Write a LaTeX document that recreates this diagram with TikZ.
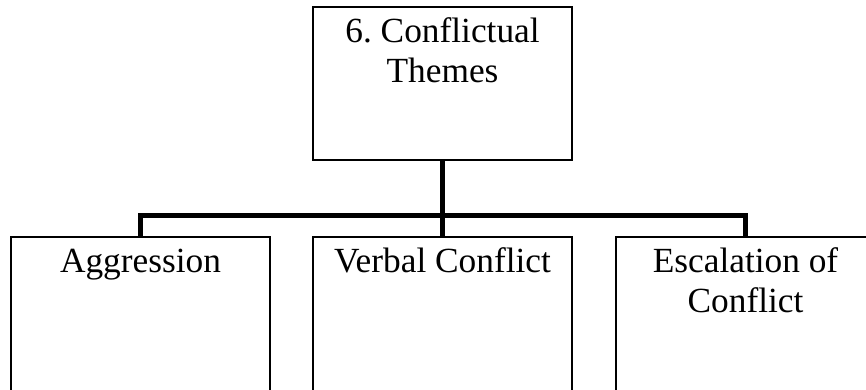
\documentclass[tikz,border=0pt]{standalone}
\usepackage{fontspec}
\setmainfont{Liberation Serif}
\begin{document}
\frenchspacing
\begin{tikzpicture}[x=0.75pt,y=-0.75pt,
  box/.style={draw, line width=1.1pt, inner sep=0pt, outer sep=0pt, minimum width=194.25pt},
  topbox/.style={box, minimum height=114.75pt},
  lowbox/.style={box, minimum height=150pt},
  lbl/.style={font=\fontsize{26.5}{30}\selectfont, align=center, anchor=north, inner sep=0pt},
  conn/.style={line width=3.75pt, line join=miter, line cap=butt}]
\clip (0,0) rectangle (866,389);
\node[topbox] (top) at (442.5,83.5) {};
\node[lowbox] (left) at (140.5,337) {};
\node[lowbox] (mid) at (442.5,337) {};
\node[lowbox] (right) at (745.5,337) {};
\coordinate (bus) at (0,215);
\node[lbl] (t1) at (top.north) {\rule{0pt}{26.25pt}6. Conflictual\\Themes};
\node[lbl] (t2) at (left.north) {\rule{0pt}{26.25pt}Aggression};
\node[lbl] (t3) at (mid.north) {\rule{0pt}{26.25pt}Verbal Conflict};
\node[lbl] (t4) at (right.north) {\rule{0pt}{26.25pt}Escalation of\\Conflict};
\draw[conn] (top.south) -- (mid.north);
\draw[conn] (left.north) -- (left.north |- bus) -- (right.north |- bus) -- (right.north);
\end{tikzpicture}
\end{document}
